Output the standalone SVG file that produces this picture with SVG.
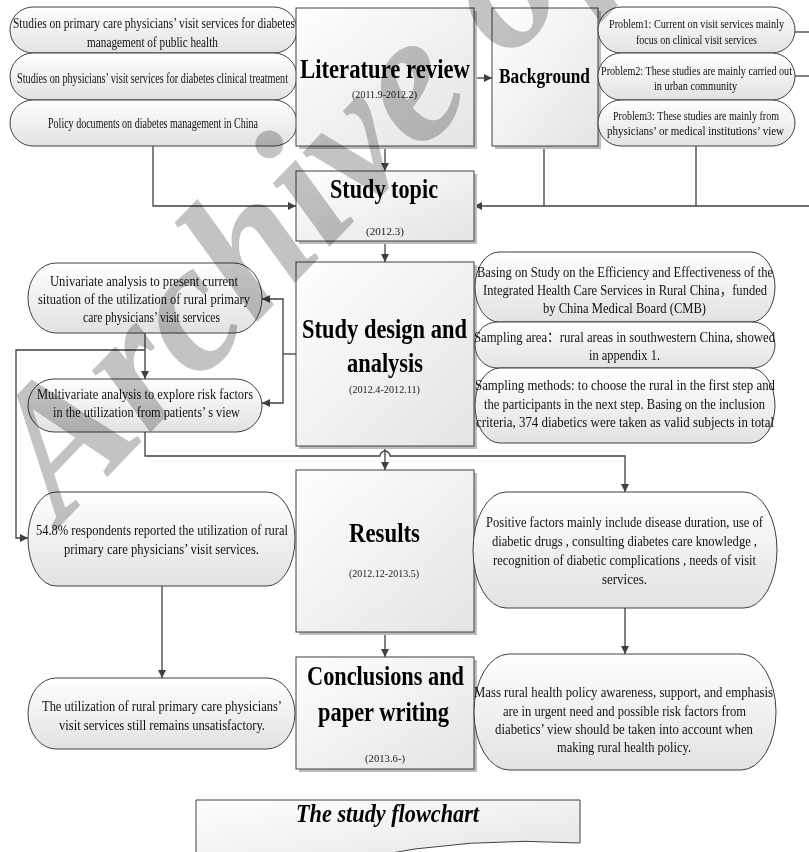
<svg xmlns="http://www.w3.org/2000/svg" width="809" height="852" viewBox="0 0 809 852">
<defs>
<linearGradient id="gs" x1="0" y1="0" x2="0" y2="1"><stop offset="0" stop-color="#ffffff"/><stop offset="1" stop-color="#e2e2e2"/></linearGradient>
<linearGradient id="gr" x1="0" y1="0" x2="1" y2="1"><stop offset="0" stop-color="#ffffff"/><stop offset="1" stop-color="#e4e4e4"/></linearGradient>
<marker id="ar" viewBox="0 0 10 10" refX="10" refY="5" markerWidth="9" markerHeight="8" markerUnits="userSpaceOnUse" orient="auto"><path d="M0,0 L10,5 L0,10 z" fill="#404040"/></marker>
<style>
.st{fill:url(#gs);stroke:#404040;stroke-width:1}
.rb{fill:url(#gr);stroke:#404040;stroke-width:1}
.sh{fill:#bdbdbd;stroke:none}
.t{font-family:"Liberation Serif","Noto Sans CJK SC",serif;font-size:14.5px;fill:#111}
.s{font-size:13px}
.d{font-family:"Liberation Serif",serif;font-size:11px;fill:#222}
.h{font-family:"Liberation Serif",serif;font-weight:bold;font-size:28px;fill:#000}
.c{fill:none;stroke:#404040;stroke-width:1.3}
.ca{fill:none;stroke:#404040;stroke-width:1.3;marker-end:url(#ar)}
</style>
</defs>
<rect width="809" height="852" fill="#ffffff"/>

<g id="connectors">
<path class="ca" d="M474,78 H492"/>
<path class="ca" d="M385,146 V171"/>
<path class="ca" d="M153,146 V206 H296"/>
<path class="c" d="M544,146 V206"/>
<path class="c" d="M696,146 V206"/>
<path class="c" d="M795,32 H809"/>
<path class="c" d="M795,76 H809"/>
<path class="ca" d="M809,206 H474"/>
<path class="ca" d="M385,241 V262"/>
<path class="c" d="M296,354 H283"/>
<path class="ca" d="M283,354 V299 H262"/>
<path class="ca" d="M283,354 V403 H262"/>
<path class="ca" d="M145,333 V379"/>
<path class="ca" d="M145,350 H16 V538 H28"/>
<path class="ca" d="M145,432 V456 H380 A5,5 0 0 1 390,456 H625 V492"/>
<path class="ca" d="M385,446 V470"/>
<path class="ca" d="M162,586 V678"/>
<path class="ca" d="M385,632 V657"/>
<path class="ca" d="M625,608 V654"/>
</g>

<g id="n-tl1"><rect class="st" x="10" y="7" width="287" height="46" rx="23" ry="23"/>
<text class="t" x="13" y="28" textLength="282" lengthAdjust="spacingAndGlyphs">Studies on primary care physicians’ visit services for diabetes</text>
<text class="t" x="87" y="47" textLength="131" lengthAdjust="spacingAndGlyphs">management of public health</text></g>
<g id="n-tl2"><rect class="st" x="10" y="53" width="287" height="47" rx="23" ry="23.5"/>
<text class="t" x="17" y="83" textLength="271" lengthAdjust="spacingAndGlyphs">Studies on physicians’  visit services for diabetes clinical treatment</text></g>
<g id="n-tl3"><rect class="st" x="10" y="100" width="287" height="46" rx="23" ry="23"/>
<text class="t" x="48" y="128" textLength="210" lengthAdjust="spacingAndGlyphs">Policy documents on diabetes management in China</text></g>

<g id="n-lit"><rect class="sh" x="299" y="11" width="178" height="138"/><rect class="rb" x="296" y="8" width="178" height="138"/>
<text class="h" x="300" y="78" textLength="170" lengthAdjust="spacingAndGlyphs">Literature review</text>
<text class="d" x="352" y="98" textLength="65" lengthAdjust="spacingAndGlyphs">(2011.9-2012.2)</text></g>

<g id="n-bg"><rect class="sh" x="495" y="11" width="106" height="138"/><rect class="rb" x="492" y="8" width="106" height="138"/>
<text class="h" style="font-size:21px" x="499" y="83" textLength="91" lengthAdjust="spacingAndGlyphs">Background</text></g>

<g id="n-p1"><rect class="st" x="598" y="7" width="197" height="46" rx="23" ry="23"/>
<text class="t s" x="609" y="28" textLength="175" lengthAdjust="spacingAndGlyphs">Problem1: Current on visit services mainly</text>
<text class="t s" x="636" y="44" textLength="121" lengthAdjust="spacingAndGlyphs">focus on clinical visit services</text></g>
<g id="n-p2"><rect class="st" x="598" y="53" width="197" height="47" rx="23" ry="23.5"/>
<text class="t s" x="601" y="75" textLength="191" lengthAdjust="spacingAndGlyphs">Problem2: These studies are mainly carried out</text>
<text class="t s" x="654" y="90" textLength="83" lengthAdjust="spacingAndGlyphs">in urban community</text></g>
<g id="n-p3"><rect class="st" x="598" y="100" width="197" height="46" rx="23" ry="23"/>
<text class="t s" x="613" y="120" textLength="166" lengthAdjust="spacingAndGlyphs">Problem3: These studies are mainly from</text>
<text class="t s" x="607" y="135" textLength="177" lengthAdjust="spacingAndGlyphs">physicians’  or medical institutions’  view</text></g>

<g id="n-topic"><rect class="sh" x="299" y="174" width="178" height="70"/><rect class="rb" x="296" y="171" width="178" height="70"/>
<text class="h" x="330" y="198" textLength="108" lengthAdjust="spacingAndGlyphs">Study topic</text>
<text class="d" x="366" y="235" textLength="38" lengthAdjust="spacingAndGlyphs">(2012.3)</text></g>

<g id="n-design"><rect class="sh" x="299" y="265" width="178" height="184"/><rect class="rb" x="296" y="262" width="178" height="184"/>
<text class="h" x="302" y="338" textLength="165" lengthAdjust="spacingAndGlyphs">Study design and</text>
<text class="h" x="347" y="372" textLength="76" lengthAdjust="spacingAndGlyphs">analysis</text>
<text class="d" x="349" y="393" textLength="71" lengthAdjust="spacingAndGlyphs">(2012.4-2012.11)</text></g>

<g id="n-uni"><rect class="st" x="28" y="263" width="234" height="70" rx="28" ry="35"/>
<text class="t" x="50" y="286" textLength="188" lengthAdjust="spacingAndGlyphs">Univariate analysis to present current</text>
<text class="t" x="38" y="304" textLength="212" lengthAdjust="spacingAndGlyphs">situation of the utilization of rural primary</text>
<text class="t" x="83" y="322" textLength="137" lengthAdjust="spacingAndGlyphs">care physicians’ visit services</text></g>
<g id="n-multi"><rect class="st" x="28" y="379" width="234" height="53" rx="26" ry="26.5"/>
<text class="t" x="37" y="399" textLength="216" lengthAdjust="spacingAndGlyphs">Multivariate analysis to explore risk factors</text>
<text class="t" x="53" y="417" textLength="187" lengthAdjust="spacingAndGlyphs">in the utilization from patients’  s view</text></g>

<g id="n-basing"><rect class="st" x="475" y="252" width="300" height="70" rx="24" ry="35"/>
<text class="t" x="477" y="277" textLength="296" lengthAdjust="spacingAndGlyphs">Basing on Study on the Efficiency and Effectiveness of the</text>
<text class="t" x="483" y="295" textLength="284" lengthAdjust="spacingAndGlyphs">Integrated Health Care Services in Rural China，funded</text>
<text class="t" x="543" y="313" textLength="163" lengthAdjust="spacingAndGlyphs">by China Medical Board (CMB)</text></g>
<g id="n-area"><rect class="st" x="475" y="322" width="300" height="46" rx="22" ry="23"/>
<text class="t" x="474" y="342" textLength="301" lengthAdjust="spacingAndGlyphs">Sampling area：rural areas in southwestern China, showed</text>
<text class="t" x="589" y="360" textLength="71" lengthAdjust="spacingAndGlyphs">in appendix 1.</text></g>
<g id="n-method"><rect class="st" x="475" y="368" width="300" height="75" rx="25" ry="37.5"/>
<text class="t" x="475" y="390" textLength="300" lengthAdjust="spacingAndGlyphs">Sampling methods: to choose the rural in the first step and</text>
<text class="t" x="484" y="409" textLength="281" lengthAdjust="spacingAndGlyphs">the participants in the next step. Basing on the inclusion</text>
<text class="t" x="476" y="427" textLength="298" lengthAdjust="spacingAndGlyphs">criteria, 374 diabetics were taken as valid subjects in total</text></g>

<g id="n-res548"><rect class="st" x="28" y="492" width="267" height="94" rx="28" ry="47"/>
<text class="t" x="36" y="535" textLength="252" lengthAdjust="spacingAndGlyphs">54.8% respondents reported the utilization of rural</text>
<text class="t" x="64" y="554" textLength="195" lengthAdjust="spacingAndGlyphs">primary care physicians’ visit services.</text></g>

<g id="n-results"><rect class="sh" x="299" y="473" width="178" height="162"/><rect class="rb" x="296" y="470" width="178" height="162"/>
<text class="h" x="349" y="542" textLength="71" lengthAdjust="spacingAndGlyphs">Results</text>
<text class="d" x="349" y="577" textLength="70" lengthAdjust="spacingAndGlyphs">(2012.12-2013.5)</text></g>

<g id="n-positive"><rect class="st" x="473" y="492" width="304" height="116" rx="33" ry="58"/>
<text class="t" x="486" y="527" textLength="277" lengthAdjust="spacingAndGlyphs">Positive factors mainly include disease duration, use of</text>
<text class="t" x="492" y="546" textLength="265" lengthAdjust="spacingAndGlyphs">diabetic drugs , consulting diabetes care knowledge ,</text>
<text class="t" x="493" y="565" textLength="263" lengthAdjust="spacingAndGlyphs">recognition of diabetic complications , needs of visit</text>
<text class="t" x="602" y="584" textLength="45" lengthAdjust="spacingAndGlyphs">services.</text></g>

<g id="n-util"><rect class="st" x="28" y="678" width="267" height="71" rx="28" ry="35.5"/>
<text class="t" x="42" y="711" textLength="240" lengthAdjust="spacingAndGlyphs">The utilization of rural primary care physicians’</text>
<text class="t" x="59" y="730" textLength="206" lengthAdjust="spacingAndGlyphs">visit services still remains unsatisfactory.</text></g>

<g id="n-concl"><rect class="sh" x="299" y="660" width="178" height="112"/><rect class="rb" x="296" y="657" width="178" height="112"/>
<text class="h" x="307" y="685" textLength="157" lengthAdjust="spacingAndGlyphs">Conclusions and</text>
<text class="h" x="318" y="721" textLength="131" lengthAdjust="spacingAndGlyphs">paper writing</text>
<text class="d" x="365" y="762" textLength="40" lengthAdjust="spacingAndGlyphs">(2013.6-)</text></g>

<g id="n-mass"><rect class="st" x="474" y="654" width="302" height="116" rx="35" ry="58"/>
<text class="t" style="font-size:14px" x="474" y="697" textLength="299" lengthAdjust="spacingAndGlyphs">Mass rural health policy awareness, support, and emphasis</text>
<text class="t" style="font-size:14px" x="503" y="716" textLength="243" lengthAdjust="spacingAndGlyphs">are in urgent need and possible risk factors from</text>
<text class="t" style="font-size:14px" x="495" y="734" textLength="258" lengthAdjust="spacingAndGlyphs">diabetics’  view should be taken into account when</text>
<text class="t" style="font-size:14px" x="557" y="752" textLength="134" lengthAdjust="spacingAndGlyphs">making rural health policy.</text></g>

<g id="n-flowchart">
<path d="M196,860 V800 H580 V843 Q470,836 362,858" fill="url(#gr)" stroke="#404040" stroke-width="1"/>
<text class="h" style="font-size:25px;font-style:italic" x="296" y="822" textLength="183" lengthAdjust="spacingAndGlyphs">The study flowchart</text></g>

<text x="62" y="524" transform="rotate(-46 62 524)" style="font-family:'Liberation Serif',serif;font-weight:bold;font-style:italic;font-size:185px;fill:#c3c3c3;mix-blend-mode:multiply">Archive of</text>
</svg>
